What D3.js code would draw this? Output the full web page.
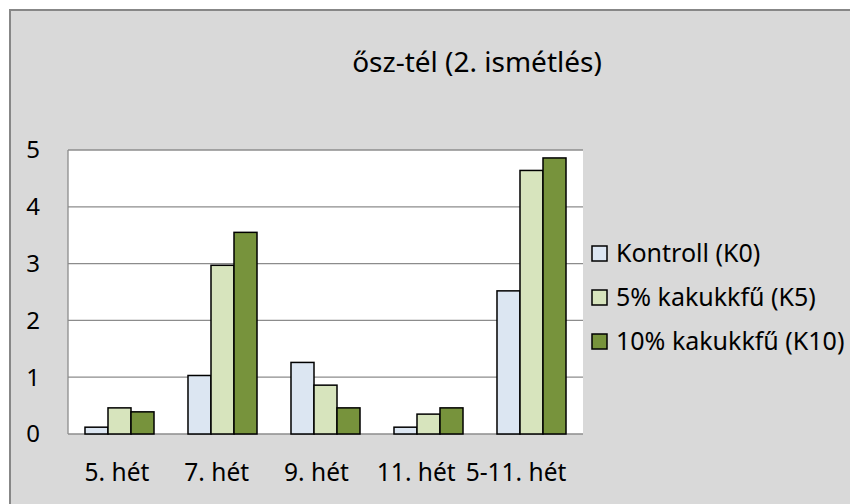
<!DOCTYPE html>
<html>
<head>
<meta charset="utf-8">
<script src="https://cdn.jsdelivr.net/npm/d3@7"></script>
<style>
  body { margin: 0; background: #fff; }
  text { font-family: "Noto Sans", "Open Sans", sans-serif; fill: #000; }
</style>
</head>
<body>
<svg id="chart" width="850" height="504"></svg>
<script>
// data
var categories = ["5. hét", "7. hét", "9. hét", "11. hét", "5-11. hét"];
var seriesNames = ["Kontroll (K0)", "5% kakukkfű (K5)", "10% kakukkfű (K10)"];
var seriesColors = ["#dce6f2", "#d7e4bd", "#77933c"];
var k0 = [0.12, 1.03, 1.26, 0.12, 2.52];
var k5 = [0.46, 2.97, 0.86, 0.35, 4.64];
var k10 = [0.39, 3.55, 0.46, 0.46, 4.86];
var yTicks = [0, 1, 2, 3, 4, 5];
var title = "ősz-tél (2. ismétlés)";

var values = [k0, k5, k10];
var svg = d3.select("#chart");

// chart frame
svg.append("rect")
    .attr("x", 10).attr("y", 10)
    .attr("width", 900).attr("height", 600)
    .style("fill", "#d9d9d9")
    .style("stroke", "#878787")
    .style("stroke-width", 2);

var plotL = 68, plotR = 583, plotT = 150, plotB = 434;

var x = d3.scaleBand().domain(categories).range([plotL, plotR])
    .paddingInner(0.33).paddingOuter(0.165);
var xs = d3.scaleBand().domain(d3.range(seriesNames.length)).range([0, x.bandwidth()]);
var y = d3.scaleLinear().domain([0, 5]).range([plotB, plotT]);
// labels in the picture drift a bit left of the group centres
var xl = d3.scalePoint().domain(categories).range([117, 516]);

// plot area
svg.append("rect")
    .attr("x", plotL).attr("y", plotT)
    .attr("width", plotR - plotL).attr("height", plotB - plotT)
    .style("fill", "#fff");

// gridlines
svg.append("g").selectAll("line")
    .data(yTicks)
    .enter().append("line")
    .attr("x1", plotL).attr("x2", plotR)
    .attr("y1", function(d){ return y(d); })
    .attr("y2", function(d){ return y(d); })
    .style("stroke", "#8c8c8c")
    .style("stroke-width", 1.3);

svg.append("line")
    .attr("x1", plotL).attr("x2", plotL)
    .attr("y1", plotT).attr("y2", plotB)
    .style("stroke", "#8c8c8c")
    .style("stroke-width", 1.3);

// y labels
svg.append("g").selectAll("text")
    .data(yTicks)
    .enter().append("text")
    .attr("x", 40)
    .attr("y", function(d){ return y(d); })
    .attr("dy", "0.35em")
    .attr("text-anchor", "end")
    .style("font-size", "24px")
    .text(function(d){ return d; });

// bars
values.forEach(function(vals, s){
    svg.append("g").selectAll("rect")
        .data(vals)
        .enter().append("rect")
        .attr("x", function(d, i){ return x(categories[i]) + xs(s); })
        .attr("y", function(d){ return y(d); })
        .attr("width", xs.bandwidth())
        .attr("height", function(d){ return y(0) - y(d); })
        .style("fill", seriesColors[s])
        .style("stroke", "#000")
        .style("stroke-width", 1.5);
});

// x labels
svg.append("g").selectAll("text")
    .data(categories)
    .enter().append("text")
    .attr("x", function(d){ return xl(d); })
    .attr("y", 481)
    .attr("text-anchor", "middle")
    .style("font-size", "24.5px")
    .text(function(d){ return d; });

// title
svg.append("text")
    .attr("x", 477).attr("y", 72)
    .attr("text-anchor", "middle")
    .style("font-size", "28px")
    .text(title);

// legend
var legend = svg.append("g").selectAll("g")
    .data(seriesNames)
    .enter().append("g")
    .attr("transform", function(d, i){ return "translate(592," + (246 + i * 44) + ")"; });

legend.append("rect")
    .attr("width", 15).attr("height", 15)
    .style("fill", function(d, i){ return seriesColors[i]; })
    .style("stroke", "#000")
    .style("stroke-width", 1.5);

legend.append("text")
    .attr("x", 24).attr("y", 7.5)
    .attr("dy", "0.35em")
    .style("font-size", "25px")
    .text(function(d){ return d; });
</script>
</body>
</html>
